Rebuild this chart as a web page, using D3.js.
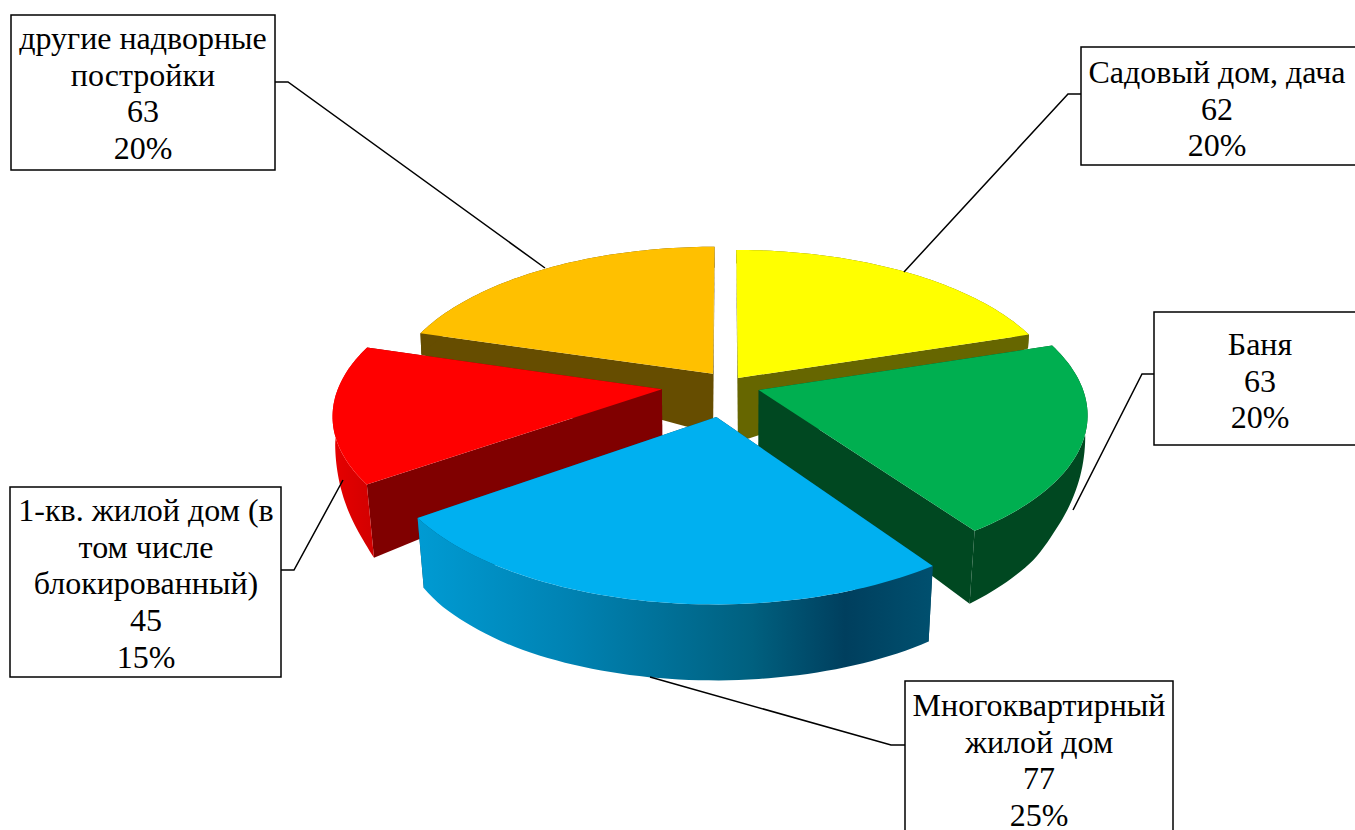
<!DOCTYPE html>
<html><head><meta charset="utf-8">
<script src="https://cdn.jsdelivr.net/npm/d3@7"></script>
<style>html,body{margin:0;padding:0;background:#fff;overflow:hidden}svg{display:block}</style>
</head><body><svg id="c" width="1355" height="830"></svg>
<script>
// Data
const categories = ["Садовый дом, дача","Баня","Многоквартирный жилой дом","1-кв. жилой дом (в том числе блокированный)","другие надворные постройки"];
const values = [62,63,77,45,63];
const nameLines = [["Садовый дом, дача"],["Баня"],["Многоквартирный","жилой дом"],["1-кв. жилой дом (в","том числе","блокированный)"],["другие надворные","постройки"]];

// Styles / layout
const topColors  = ["#FFFF00","#00AF50","#00B0F0","#FF0000","#FFC000"];
const wallColors = ["#666600","#004821","#00465F","#800000","#664D00"];
const rimColors  = ["#666600","#004821","url(#blueRim)","url(#redRim)","#664D00"];
const explodeX = [0.0404,0.1039,-0.0260,-0.1946,-0.0376];
const explodeY = [0.1138,0.0330,-0.1417,0.0385,0.1423];
const tipDepth = [64,57,75,50,60];
const depthScale = [0.9,1,1,1.22,1.4];
const drawOrder = [4,0,3,1,2];
const boxes = [
 {x:1081,y:47,w:290,h:118,tx:1217,ty:72,line:[[1081,94],[1068,94],[904,272]]},
 {x:1154,y:312,w:220,h:133,tx:1260,ty:344,line:[[1154,374],[1142,374],[1073,510]]},
 {x:905,y:681,w:268,h:170,tx:1039,ty:705,line:[[905,745],[891,745],[650,677]]},
 {x:10,y:487,w:271,h:190,tx:146,ty:510,line:[[281,570],[294,570],[343,480]]},
 {x:11,y:15,w:264,h:155,tx:143,ty:38,line:[[275,82],[288,82],[545,268]]}
];
const lineStep = 36.6, fontSize = 32;

// Perspective of the pie plane
const cx = 725, cy = 395, A = 326, B = 152, K = 0.15;
const depthOf = d3.scaleLinear().domain([0.45,0.1,-0.1,-0.3,-0.47,-0.6,-0.79,-1]).range([15,22,27,42,54,65,73,76]).clamp(true);
const shrinkOf = d3.scaleLinear().domain([0.45,-0.1,-0.5]).range([0.997,0.994,0.98]).clamp(true);
const project = (X,Y,bottom,depth) => {
  const w = 1 + K*Y;
  let sx = A*X/w, sy = -B*Y/w;
  if (bottom) { sx *= shrinkOf(Y); sy += depth; }
  return [cx+sx, cy+sy];
};

const svg = d3.select("#c");
svg.append("rect").attr("width",1355).attr("height",830).attr("fill","#fff");
const defs = svg.append("defs");
const grad = (id,stops) => defs.append("linearGradient").attr("id",id).attr("x1",0).attr("x2",1).attr("y1",0).attr("y2",0)
  .selectAll("stop").data(stops).join("stop").attr("offset",d=>d[0]).attr("stop-color",d=>d[1]);
grad("blueRim",[[0,"#009BD3"],[0.3,"#0082B2"],[0.65,"#00607F"],[0.83,"#003F5E"],[1,"#00506F"]]);
grad("redRim",[[0,"#E60000"],[1,"#D20000"]]);

const pie = d3.pie().sort(null).startAngle(0).endAngle(2*Math.PI);
const arcs = pie(values);
const line = d3.line();
const g = svg.append("g");

drawOrder.forEach(i => {
  const a = arcs[i], tx = explodeX[i], ty = explodeY[i];
  const rimPt = t => [tx+Math.sin(t), ty+Math.cos(t)];
  const angles = d3.range(0,61).map(j => a.startAngle + (a.endAngle-a.startAngle)*j/60);
  const topRim = angles.map(t => project(...rimPt(t),false));
  const botRim = angles.map(t => { const p = rimPt(t); return project(p[0],p[1],true,depthOf(p[1])*depthScale[i]); });
  const tipTop = project(tx,ty,false);
  const tipBot = project(tx,ty,true,tipDepth[i]);
  const wall = (k) => [tipTop, topRim[k], botRim[k], tipBot];
  g.append("path").attr("d",line(wall(0))+"Z").attr("fill",wallColors[i]);
  g.append("path").attr("d",line(wall(60))+"Z").attr("fill",wallColors[i]);
  g.append("path").attr("d",line(topRim.concat(botRim.slice().reverse()))+"Z").attr("fill",rimColors[i]);
  g.append("path").attr("d",line([tipTop].concat(topRim))+"Z").attr("fill",topColors[i]);
});

const total = d3.sum(values), pct = d3.format(".0%");
boxes.forEach((b,i) => {
  svg.append("path").attr("d",line(b.line)).attr("fill","none").attr("stroke","#000").attr("stroke-width",1.5);
  svg.append("rect").attr("x",b.x).attr("y",b.y).attr("width",b.w).attr("height",b.h)
    .attr("fill","#fff").attr("stroke","#000").attr("stroke-width",1.5);
  const lines = nameLines[i].concat([String(values[i]), pct(values[i]/total)]);
  svg.append("g").selectAll("text").data(lines).join("text")
    .attr("x",b.tx).attr("y",(d,j)=>b.ty+j*lineStep)
    .attr("dy","0.35em").attr("text-anchor","middle")
    .attr("font-family","'Liberation Serif','Times New Roman',serif")
    .attr("font-size",fontSize).attr("fill","#000").text(d=>d);
});
</script></body></html>
